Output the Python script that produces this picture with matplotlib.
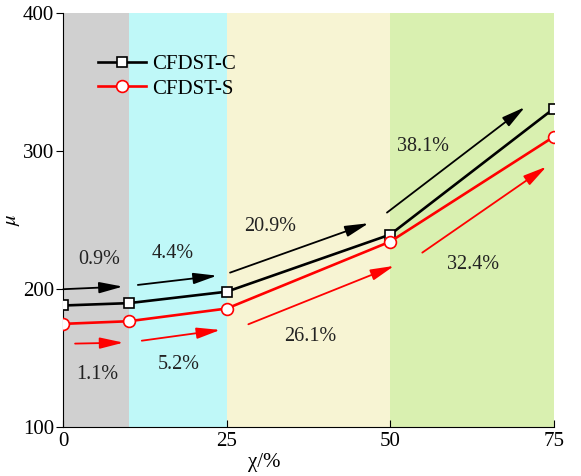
import matplotlib.pyplot as plt
import numpy as np

# data
chi = [0, 10, 25, 50, 75]
mu_c = [188.0, 189.7, 198.0, 239.4, 330.6]
mu_s = [174.7, 176.6, 185.8, 234.3, 310.2]

bands = [(0, 10), (10, 25), (25, 50), (50, 75)]
band_colors = ["#d0d0d0", "#bff8f8", "#f7f4d3", "#d9f0b0"]

# growth arrows: (start, end) in data coords, label and label position
arrows_c = [((0, 199.8), (9.1, 201.7)), ((11.4, 202.9), (23.5, 209.6)),
            ((25.5, 211.8), (46.7, 247.6)), ((49.5, 255.3), (70.6, 331.7))]
labels_c = ["0.9%", "4.4%", "20.9%", "38.1%"]
label_pos_c = [(5.5, 221.5), (16.8, 225.4), (31.6, 245.0), (55.0, 303.0)]

arrows_s = [((1.8, 160.4), (9.2, 161.1)), ((12.0, 162.5), (24.0, 170.3)),
            ((28.3, 174.4), (50.6, 216.7)), ((54.9, 226.3), (73.9, 288.6))]
labels_s = ["1.1%", "5.2%", "26.1%", "32.4%"]
label_pos_s = [(5.2, 137.7), (17.6, 145.0), (37.7, 165.2), (62.6, 217.4)]

plt.rcParams["font.family"] = ["Liberation Serif", "DejaVu Serif"]
plt.rcParams["mathtext.fontset"] = "stix"

fig = plt.figure(figsize=(5.81, 4.76), dpi=100)
ax = fig.add_axes([0.109, 0.103, 0.844, 0.870])

for (x0, x1), c in zip(bands, band_colors):
    ax.axvspan(x0, x1, color=c, lw=0, zorder=0)

ax.plot(chi, mu_c, "-s", color="k", lw=1.9, ms=7.5, mfc="white", mec="k",
        mew=1.2, label="CFDST-C", zorder=3)
ax.plot(chi, mu_s, "-o", color="red", lw=1.9, ms=8.5, mfc="white", mec="red",
        mew=1.2, label="CFDST-S", zorder=3)

astyle = "-|>,head_length=1.1,head_width=0.26"
for (p0, p1), lab, pos in zip(arrows_c, labels_c, label_pos_c):
    ax.annotate("", xy=p1, xytext=p0,
                arrowprops=dict(arrowstyle=astyle, mutation_scale=13,
                                color="k", lw=1.3, shrinkA=0, shrinkB=0))
    ax.text(*pos, lab, ha="center", va="center", fontsize=14.5, color="#222222")

for (p0, p1), lab, pos in zip(arrows_s, labels_s, label_pos_s):
    ax.annotate("", xy=p1, xytext=p0,
                arrowprops=dict(arrowstyle=astyle, mutation_scale=13,
                                color="red", lw=1.3, shrinkA=0, shrinkB=0))
    ax.text(*pos, lab, ha="center", va="center", fontsize=14.5, color="#222222")

ax.set_xlim(0, 75)
ax.set_ylim(100, 400)
ax.set_xticks([0, 25, 50, 75])
ax.set_yticks([100, 200, 300, 400])
ax.tick_params(axis="x", direction="in", labelsize=15, length=5)
ax.tick_params(axis="y", direction="out", labelsize=15, length=5, pad=1.5)
ax.spines["top"].set_visible(False)
ax.spines["right"].set_visible(False)
ax.set_xlabel("χ/%", fontsize=15)
ax.xaxis.set_label_coords(0.41, -0.062)
ax.set_ylabel(r"$\mu$", fontsize=15)
ax.yaxis.set_label_coords(-0.085, 0.5)

ax.legend(loc="upper left", bbox_to_anchor=(0.032, 0.945), frameon=False,
          fontsize=15, handlelength=2.3, handletextpad=0.3, labelspacing=0.25)

plt.savefig("out.png", dpi=100)
plt.close(fig)
